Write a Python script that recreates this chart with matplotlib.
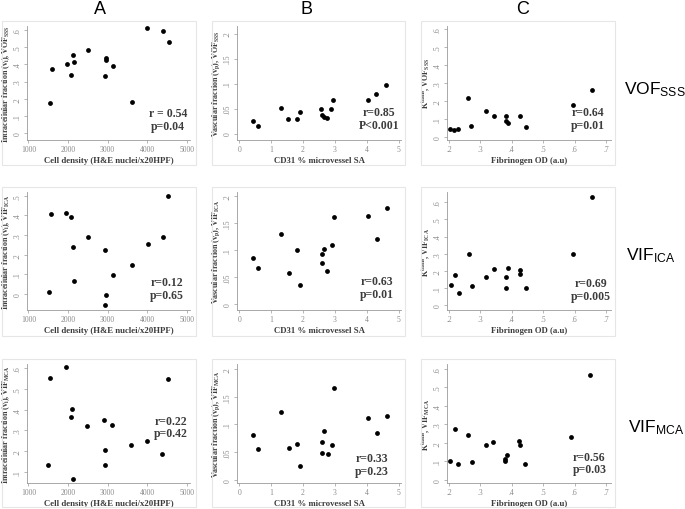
import matplotlib
matplotlib.use("Agg")
import matplotlib.pyplot as plt
from matplotlib.patches import Rectangle

W, H = 685, 510

# column A: cell density vs intracellular fraction
a_x_sss = [1534, 1593, 1975, 2085, 2127, 2161, 2508, 2958, 2958, 2940, 3136, 3610, 4008, 4390, 4542]
a_y_sss = [0.174, 0.371, 0.402, 0.340, 0.454, 0.411, 0.483, 0.436, 0.425, 0.330, 0.388, 0.180, 0.612, 0.595, 0.531]
a_x_ica = [1528, 1579, 1962, 2089, 2140, 2157, 2498, 2949, 2974, 2940, 3128, 3613, 4013, 4404, 4540]
a_y_ica = [0.009, 0.405, 0.414, 0.391, 0.240, 0.069, 0.291, 0.226, -0.003, -0.055, 0.098, 0.148, 0.255, 0.291, 0.498]
a_x_mca = [1487, 1556, 1949, 2111, 2068, 2479, 2915, 3120, 2940, 2940, 2137, 3598, 4000, 4385, 4538]
a_y_mca = [0.132, 0.553, 0.605, 0.405, 0.365, 0.319, 0.352, 0.324, 0.206, 0.132, 0.066, 0.229, 0.248, 0.187, 0.548]

# column B: CD31 vs vascular fraction
b_x_sss = [0.43, 0.59, 1.31, 1.54, 1.81, 1.89, 2.57, 2.59, 2.65, 2.75, 2.88, 2.94, 4.04, 4.30, 4.59]
b_y_sss = [0.026, 0.015, 0.051, 0.030, 0.030, 0.044, 0.049, 0.037, 0.034, 0.032, 0.049, 0.068, 0.068, 0.080, 0.097]
b_x_ica = [0.43, 0.60, 1.31, 1.56, 1.81, 1.92, 2.58, 2.59, 2.66, 2.76, 2.91, 2.96, 4.05, 4.33, 4.63]
b_y_ica = [0.086, 0.067, 0.129, 0.057, 0.101, 0.035, 0.076, 0.093, 0.102, 0.062, 0.110, 0.160, 0.162, 0.121, 0.177]
b_x_mca = [0.44, 0.60, 1.32, 1.57, 1.82, 1.92, 2.60, 2.65, 2.60, 2.77, 2.91, 2.97, 4.05, 4.33, 4.64]
b_y_mca = [0.081, 0.055, 0.122, 0.058, 0.064, 0.025, 0.069, 0.089, 0.049, 0.046, 0.063, 0.166, 0.111, 0.084, 0.115]

# column C: fibrinogen vs Ktrans
c_x_sss = [0.202, 0.217, 0.229, 0.261, 0.271, 0.317, 0.344, 0.382, 0.383, 0.389, 0.427, 0.446, 0.594, 0.656]
c_y_sss = [0.044, 0.041, 0.044, 0.217, 0.060, 0.148, 0.117, 0.117, 0.090, 0.077, 0.120, 0.055, 0.180, 0.264]
c_x_ica = [0.206, 0.221, 0.231, 0.263, 0.274, 0.319, 0.344, 0.381, 0.382, 0.388, 0.426, 0.427, 0.446, 0.594, 0.654]
c_y_ica = [0.120, 0.175, 0.073, 0.297, 0.110, 0.164, 0.210, 0.164, 0.103, 0.215, 0.204, 0.179, 0.103, 0.299, 0.630]
c_x_mca = [0.205, 0.220, 0.230, 0.262, 0.274, 0.317, 0.342, 0.380, 0.380, 0.386, 0.424, 0.425, 0.443, 0.590, 0.649]
c_y_mca = [0.101, 0.272, 0.083, 0.243, 0.095, 0.190, 0.201, 0.101, 0.113, 0.132, 0.210, 0.186, 0.083, 0.228, 0.567]

col_titles = ["A", "B", "C"]
row_names = ["SSS", "ICA", "MCA"]
row_labels = [r"VOF$_\mathregular{SSS}$", r"VIF$_\mathregular{ICA}$", r"VIF$_\mathregular{MCA}$"]
row_prefix = ["VOF", "VIF", "VIF"]

a_xlabel = "Cell density (H&E nuclei/x20HPF)"
b_xlabel = "CD31 % microvessel SA"
c_xlabel = "Fibrinogen OD (a.u)"

stats = {
    ("A", 0): ("r = 0.54", "p=0.04"), ("A", 1): ("r=0.12", "p=0.65"), ("A", 2): ("r=0.22", "p=0.42"),
    ("B", 0): ("r=0.85", "P<0.001"), ("B", 1): ("r=0.63", "p=0.01"), ("B", 2): ("r=0.33", "p=0.23"),
    ("C", 0): ("r=0.64", "p=0.01"), ("C", 1): ("r=0.69", "p=0.005"), ("C", 2): ("r=0.56", "p=0.03"),
}

data = {
    ("A", 0): (a_x_sss, a_y_sss), ("A", 1): (a_x_ica, a_y_ica), ("A", 2): (a_x_mca, a_y_mca),
    ("B", 0): (b_x_sss, b_y_sss), ("B", 1): (b_x_ica, b_y_ica), ("B", 2): (b_x_mca, b_y_mca),
    ("C", 0): (c_x_sss, c_y_sss), ("C", 1): (c_x_ica, c_y_ica), ("C", 2): (c_x_mca, c_y_mca),
}

# layout in pixels
col_axes = {"A": (27, 190), "B": (237, 401), "C": (447, 611)}
col_frame = {"A": (2, 196), "B": (212, 405), "C": (421, 615)}
row_axes = [(27, 141), (193, 311), (365, 484)]
row_frame = [(22, 166), (188, 337), (360, 508)]

ylims = {
    ("A", 0): (-0.04, 0.623), ("A", 1): (-0.081, 0.519), ("A", 2): (0.045, 0.621),
    ("B", 0): (-0.013, 0.215), ("B", 1): (-0.0105, 0.207), ("B", 2): (-0.006, 0.2095),
    ("C", 0): (-0.015, 0.615), ("C", 1): (-0.028, 0.66), ("C", 2): (-0.018, 0.625),
}
yticks = {
    ("A", 0): [0, .1, .2, .3, .4, .5, .6], ("A", 1): [0, .1, .2, .3, .4, .5], ("A", 2): [.1, .2, .3, .4, .5, .6],
}
text_pos = {
    ("A", 0): (0.865, 0.237, 0.123), ("A", 1): (0.857, 0.24, 0.127), ("A", 2): (0.883, 0.524, 0.42),
    ("B", 0): (0.867, 0.25, 0.134), ("B", 1): (0.853, 0.248, 0.138), ("B", 2): (0.822, 0.213, 0.103),
    ("C", 0): (0.86, 0.248, 0.132), ("C", 1): (0.876, 0.226, 0.121), ("C", 2): (0.868, 0.221, 0.118),
}


def short(v):
    s = f"{v:g}"
    if s.startswith("0."):
        s = s[1:]
    return s


def rect(l, r, t, b):
    return [l / W, 1 - b / H, (r - l) / W, (b - t) / H]


plt.rcParams['font.family'] = ['Liberation Serif', 'DejaVu Serif']
plt.rcParams['mathtext.default'] = 'regular'

fig = plt.figure(figsize=(W / 100, H / 100), dpi=100)
fig.patch.set_facecolor("white")

axis_grey = "#9a9a9a"
text_grey = "#3c3c3c"

for col in col_titles:
    for row in range(3):
        key = (col, row)
        fl, fr = col_frame[col]
        ft, fb = row_frame[row]
        fig.patches.append(Rectangle((fl / W, 1 - fb / H), (fr - fl) / W, (fb - ft) / H,
                                     transform=fig.transFigure, fill=False,
                                     edgecolor="#e6e6e6", linewidth=0.8))
        l, r = col_axes[col]
        t, b = row_axes[row]
        ax = fig.add_axes(rect(l, r, t, b))
        x, y = data[key]
        ax.scatter(x, y, s=12, color="black", zorder=3, linewidths=0)

        if col == "A":
            ax.set_xlim(965, 5085)
            ax.set_xticks([1000, 2000, 3000, 4000, 5000])
            ax.set_xticklabels(["1000", "2000", "3000", "4000", "5000"])
            ax.set_yticks(yticks[key])
            ylab = "Intracellular fraction (v$_i$), " + row_prefix[row] + "$_{" + row_names[row] + "}$"
            xlab = a_xlabel
        elif col == "B":
            ax.set_xlim(-0.07, 5.07)
            ax.set_xticks([0, 1, 2, 3, 4, 5])
            ax.set_xticklabels(["0", "1", "2", "3", "4", "5"])
            ax.set_yticks([0, .05, .1, .15, .2])
            ylab = "Vascular fraction (v$_p$), " + row_prefix[row] + "$_{" + row_names[row] + "}$"
            xlab = b_xlabel
        else:
            ax.set_xlim(0.194, 0.716)
            ax.set_xticks([.2, .3, .4, .5, .6, .7])
            ax.set_xticklabels([short(v) for v in [.2, .3, .4, .5, .6, .7]])
            ax.set_yticks([0, .1, .2, .3, .4, .5, .6])
            ylab = "K$^{trans}$, " + row_prefix[row] + "$_{" + row_names[row] + "}$"
            xlab = c_xlabel
        ax.set_ylim(*ylims[key])
        ax.set_yticklabels([short(v) for v in ax.get_yticks()], rotation=90, va="center")

        for s in ["top", "right"]:
            ax.spines[s].set_visible(False)
        for s in ["left", "bottom"]:
            ax.spines[s].set_color(axis_grey)
            ax.spines[s].set_linewidth(0.6)
        ax.tick_params(axis="both", length=2.5, width=0.5, color=axis_grey,
                       labelcolor="#8a8a8a", labelsize=5.5, pad=1.2)
        ax.set_xlabel(xlab, fontsize=6.3, fontweight="bold", color=text_grey, labelpad=2)
        ax.set_ylabel(ylab, fontsize=5.8, fontweight="bold", color=text_grey)
        ax.yaxis.set_label_coords(-0.092, 0.5)

        tx, ty1, ty2 = text_pos[key]
        s1, s2 = stats[key]
        ax.text(tx, ty1, s1, transform=ax.transAxes, ha="center", va="center",
                fontsize=8.5, fontweight="bold", color=text_grey)
        ax.text(tx, ty2, s2, transform=ax.transAxes, ha="center", va="center",
                fontsize=8.5, fontweight="bold", color=text_grey)

# column titles
for col, xc in zip(col_titles, [100, 306, 523]):
    fig.text(xc / W, 1 - 9 / H, col, ha="center", va="center", fontsize=13,
             family=["Liberation Sans", "DejaVu Sans"])

# row labels
for lab, xl, yc in zip(row_labels, [624, 626, 628], [90, 256, 428]):
    fig.text(xl / W, 1 - yc / H, lab, ha="left", va="center", fontsize=12.5,
             family=["Liberation Sans", "DejaVu Sans"])

fig.savefig("out.png", dpi=100, facecolor="white")
